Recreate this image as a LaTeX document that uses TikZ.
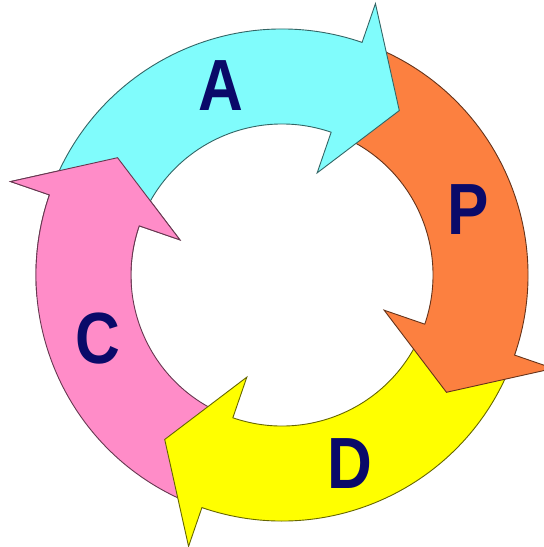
\documentclass[tikz,border=0pt]{standalone}
\usepackage{fontspec}
\setmainfont{Liberation Sans}
\usepackage{graphicx}
\definecolor{acyan}{RGB}{128,252,252}
\definecolor{porange}{RGB}{252,128,64}
\definecolor{dyellow}{RGB}{255,255,0}
\definecolor{cpink}{RGB}{255,140,200}
\definecolor{navy}{RGB}{10,10,105}
\newcommand\pdcaarrow[2]{%
  \pgfmathsetmacro\aT{156+#1}%
  \pgfmathsetmacro\aB{71+#1}%
  \pgfmathsetmacro\aP{54.5+#1}%
  \path[arrowbody,fill=#2,draw=#2!40!black]
    (\aT:246pt) arc[start angle=\aT,end angle=\aB,radius=246pt]
    -- (\aB:287pt) -- (\aP:202pt) -- (\aB:108pt) -- (\aB:151pt)
    arc[start angle=\aB,end angle=\aT,radius=151pt] -- cycle;}
\tikzset{
  arrowbody/.style={line width=0.9pt,line join=miter},
  letter/.style={inner sep=0pt,text=navy,font=\fontsize{62}{62}\selectfont\bfseries}
}
\begin{document}
\begin{tikzpicture}[x=1pt,y=1pt]
\useasboundingbox[fill=white] (0,0) rectangle (544,-547);
\begin{scope}[shift={(282pt,-275pt)}]
  \pdcaarrow{90}{cpink}
  \pdcaarrow{-180}{dyellow}
  \pdcaarrow{-90}{porange}
  \pdcaarrow{0}{acyan}
  \begin{scope}
    \clip (0,0) -- (115:400pt) -- (150:400pt) -- (185:400pt) -- cycle;
    \pdcaarrow{90}{cpink}
  \end{scope}
\end{scope}
\node[letter] (A) at (221,-86) {\scalebox{1}[1.17]{A}};
\node[letter] (P) at (468,-210) {\scalebox{1}[1.17]{P}};
\node[letter] (D) at (350,-464) {\scalebox{1}[1.17]{D}};
\node[letter] (C) at (98,-339) {\scalebox{1}[1.17]{C}};
\end{tikzpicture}
\end{document}
